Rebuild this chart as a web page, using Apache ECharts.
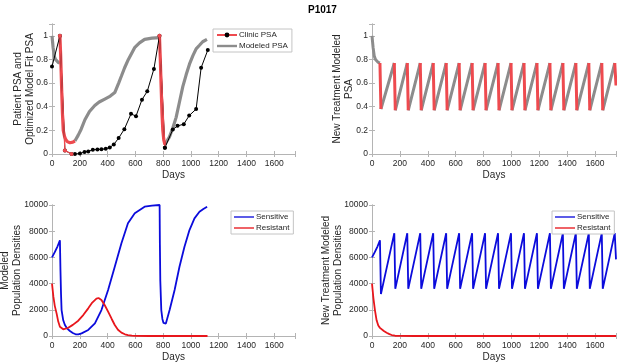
<!DOCTYPE html>
<html>
<head>
<meta charset="utf-8">
<script src="https://cdn.jsdelivr.net/npm/echarts@6/dist/echarts.min.js"></script>
<style>
html,body{margin:0;padding:0;background:#fff;}
#chart{width:617px;height:363px;}
</style>
</head>
<body>
<div id="chart"></div>
<script>
// ---------- Data ----------
const title = 'P1017';
const xTicks = [0, 200, 400, 600, 800, 1000, 1200, 1400, 1600];
const psaTicks = [0, 0.2, 0.4, 0.6, 0.8, 1];
const popTicks = [0, 2000, 4000, 6000, 8000, 10000];

// Top-left: clinic PSA
const clinicDays = [0, 57, 93, 141, 165, 201, 234, 261, 294, 327, 356, 387, 416, 445, 480, 521, 569, 605, 648, 686, 734, 774, 813, 870, 904, 949, 988, 1038, 1074, 1122];
const clinicPSA  = [0.74, 1.0, 0.03, 0.0, 0.0, 0.004, 0.017, 0.022, 0.036, 0.038, 0.04, 0.045, 0.055, 0.08, 0.135, 0.21, 0.34, 0.32, 0.46, 0.53, 0.72, 1.0, 0.053, 0.207, 0.238, 0.252, 0.325, 0.38, 0.73, 0.88];
const clinicOnDays = [57, 93, 141];
const clinicOnPSA  = [1.0, 0.03, 0.0];
const clinicOn2Days = [774, 813];
const clinicOn2PSA  = [1.0, 0.053];

// Top-left: modeled PSA (off = gray, on = red)
const modOff1Days = [0, 8, 16, 25, 33, 45, 57];
const modOff1PSA  = [1.0, 0.9, 0.83, 0.8, 0.785, 0.775, 0.77];
const modOn1Days = [57, 62, 69, 75, 81, 90, 98, 110, 129, 150, 165];
const modOn1PSA  = [1.0, 0.85, 0.57, 0.35, 0.2, 0.15, 0.125, 0.105, 0.095, 0.1, 0.11];
const modOff2Days = [165, 189, 210, 237, 270, 308, 340, 380, 420, 452, 480, 500, 523, 550, 595, 630, 667, 720, 774];
const modOff2PSA  = [0.11, 0.16, 0.21, 0.29, 0.36, 0.41, 0.44, 0.465, 0.49, 0.52, 0.6, 0.66, 0.73, 0.8, 0.9, 0.94, 0.97, 0.98, 0.985];
const modOn2Days = [774, 780, 786, 792, 798, 805, 813];
const modOn2PSA  = [1.0, 0.8, 0.57, 0.35, 0.2, 0.12, 0.08];
const modOff3Days = [813, 846, 870, 894, 918, 942, 966, 990, 1014, 1038, 1062, 1085, 1116];
const modOff3PSA  = [0.08, 0.145, 0.22, 0.31, 0.44, 0.57, 0.67, 0.76, 0.83, 0.89, 0.92, 0.95, 0.97];

// Top-right / bottom-right: new treatment schedule
const newInitDays = [0, 8, 16, 25, 33, 45, 57];
const newInitPSA  = [1.0, 0.9, 0.83, 0.8, 0.785, 0.775, 0.77];
const peakDays   = [57, 160, 253, 346, 439, 532, 625, 718, 811, 904, 997, 1090, 1183, 1276, 1369, 1462, 1555, 1648, 1741];
const troughDays = [64, 167, 260, 353, 446, 539, 632, 725, 818, 911, 1004, 1097, 1190, 1283, 1376, 1469, 1562, 1655, 1750];
const peakPSA    = [0.77, 0.77, 0.77, 0.77, 0.77, 0.77, 0.77, 0.77, 0.77, 0.77, 0.77, 0.77, 0.77, 0.77, 0.77, 0.77, 0.77, 0.77, 0.77];
const troughPSA  = [0.38, 0.37, 0.37, 0.37, 0.37, 0.37, 0.37, 0.37, 0.37, 0.37, 0.37, 0.37, 0.37, 0.37, 0.37, 0.37, 0.37, 0.37, 0.58];

// Bottom-left: modeled populations
const sensDays = [0, 20, 40, 57, 61, 65, 69, 81, 93, 110, 129, 150, 170, 190, 213, 261, 309, 356, 404, 452, 500, 547, 596, 667, 720, 775, 777, 780, 787, 795, 803, 811, 820, 847, 883, 918, 954, 990, 1026, 1062, 1090, 1117];
const sensVals = [6000, 6400, 6850, 7300, 5000, 3200, 1980, 1200, 840, 560, 380, 230, 130, 130, 200, 460, 970, 1980, 3510, 5290, 7080, 8600, 9370, 9870, 9960, 10000, 7000, 4200, 1980, 1300, 1000, 915, 950, 1980, 3510, 5290, 6820, 8090, 8980, 9490, 9700, 9870];
const resDays = [0, 10, 20, 33, 45, 57, 70, 81, 95, 117, 150, 189, 225, 261, 290, 320, 335, 356, 380, 404, 430, 452, 475, 500, 525, 547, 575, 600, 700, 800, 1120];
const resVals = [4000, 3000, 2300, 1730, 1100, 710, 560, 510, 530, 630, 850, 1170, 1600, 2110, 2550, 2850, 2900, 2750, 2350, 1860, 1300, 840, 480, 255, 130, 75, 30, 10, 0, 0, 0];

// Bottom-right: new treatment populations
const newSensInitDays = [0, 20, 40, 57];
const newSensInitVals = [6000, 6400, 6850, 7300];
const sensPeakVals   = [7300, 7850, 7850, 7850, 7850, 7850, 7850, 7850, 7850, 7850, 7850, 7850, 7850, 7850, 7850, 7850, 7850, 7850, 7850];
const sensTroughVals = [3200, 3600, 3600, 3600, 3600, 3600, 3600, 3600, 3600, 3600, 3600, 3600, 3600, 3600, 3600, 3600, 3600, 3600, 5850];
const newResDays = [0, 10, 21, 33, 45, 57, 69, 85, 105, 125, 141, 165, 200, 300, 1750];
const newResVals = [4000, 2900, 1980, 1200, 800, 620, 510, 380, 250, 140, 75, 20, 5, 0, 0];

// ---------- Helpers ----------
const zip = (xs, ys) => xs.map((x, i) => [x, ys[i]]);
function sawOn(pv, tv) {          // drops during treatment
  const out = [];
  for (let i = 0; i < peakDays.length; i++) {
    out.push([peakDays[i], pv[i]], [troughDays[i], tv[i]], [troughDays[i], null]);
  }
  return out;
}
function sawOff(initD, initV, pv, tv) {   // regrowth off treatment
  const out = zip(initD, initV);
  out.push([initD[initD.length - 1], null]);
  for (let i = 0; i < peakDays.length - 1; i++) {
    out.push([troughDays[i], tv[i]], [peakDays[i + 1], pv[i + 1]], [peakDays[i + 1], null]);
  }
  return out;
}
function sawFull(initD, initV, pv, tv) {  // continuous curve in time order
  const d = zip(initD, initV);
  for (let i = 0; i < peakDays.length; i++) {
    if (i > 0) d.push([peakDays[i], pv[i]]);
    d.push([troughDays[i], tv[i]]);
  }
  return d;
}

const FONT = 'Liberation Sans, Arial, Helvetica, sans-serif';
const TXT = '#262626';
const FRAME = '#b4b4b4';
const GRAYC = '#8c8c8c';
const LRED = '#ee4a4f';
const BLUE = '#0b0bdc';
const RED = '#e8161c';

const grids = [
  {left: 52,  top: 24,  width: 243, height: 130},
  {left: 372, top: 24,  width: 244, height: 130},
  {left: 52,  top: 205, width: 243, height: 131},
  {left: 372, top: 205, width: 244, height: 131}
];
const yNames = ['Patient PSA and\nOptimized Model Fit PSA', 'New Treatment Modeled\nPSA', 'Modeled\nPopulation Densities', 'New Treatment Modeled\nPopulation Densities'];
const yGaps = [16, 17, 29, 28];

const xAxes = [], yAxes = [];
grids.forEach((g, i) => {
  const isPSA = i < 2;
  xAxes.push({
    type: 'value', gridIndex: i, min: 0, max: 1750, interval: 200, position: 'bottom',
    name: 'Days', nameLocation: 'middle', nameGap: 16, nameMoveOverlap: false,
    nameTextStyle: {fontFamily: FONT, fontSize: 10, color: TXT},
    axisLine: {show: true, lineStyle: {color: FRAME, width: 1}},
    axisTick: {show: true, inside: true, length: 3, lineStyle: {color: FRAME}},
    axisLabel: {fontFamily: FONT, fontSize: 8.5, color: TXT, margin: 5,
      formatter: v => (xTicks.indexOf(v) >= 0 ? String(v) : '')},
    splitLine: {show: false}
  });
  xAxes.push({
    type: 'value', gridIndex: i, min: 0, max: 1750, interval: 200, position: 'top',
    axisLine: {show: true, lineStyle: {color: FRAME, width: 1}},
    axisTick: {show: true, inside: true, length: 3, lineStyle: {color: FRAME}},
    axisLabel: {show: false}, splitLine: {show: false}
  });
  const ymax = isPSA ? 1.1 : 10000;
  const yint = isPSA ? 0.2 : 2000;
  const ticks = isPSA ? psaTicks : popTicks;
  yAxes.push({
    type: 'value', gridIndex: i, min: 0, max: ymax, interval: yint, position: 'left',
    name: yNames[i], nameLocation: 'middle', nameGap: yGaps[i], nameRotate: 90, nameMoveOverlap: false,
    nameTextStyle: {fontFamily: FONT, fontSize: 10, color: TXT, lineHeight: 12},
    axisLine: {show: true, lineStyle: {color: FRAME, width: 1}},
    axisTick: {show: true, inside: true, length: 3, lineStyle: {color: FRAME}},
    axisLabel: {fontFamily: FONT, fontSize: 8.5, color: TXT, margin: 4,
      formatter: v => (ticks.some(t => Math.abs(t - v) < 1e-9) ? String(Math.round(v * 10) / 10) : '')},
    splitLine: {show: false}
  });
  yAxes.push({
    type: 'value', gridIndex: i, min: 0, max: ymax, interval: yint, position: 'right',
    axisLine: {show: true, lineStyle: {color: FRAME, width: 1}},
    axisTick: {show: true, inside: true, length: 3, lineStyle: {color: FRAME}},
    axisLabel: {show: false}, splitLine: {show: false}
  });
});

function line(name, gi, data, color, width, extra) {
  return Object.assign({
    type: 'line', name: name, xAxisIndex: gi * 2, yAxisIndex: gi * 2, data: data,
    showSymbol: false, symbol: 'none', animation: false, connectNulls: false,
    lineStyle: {color: color, width: width}, itemStyle: {color: color}
  }, extra || {});
}

const series = [
  // Top-left
  line('mo1', 0, zip(modOff1Days, modOff1PSA), GRAYC, 3.2),
  line('mo2', 0, zip(modOff2Days, modOff2PSA), GRAYC, 3.2),
  line('mo3', 0, zip(modOff3Days, modOff3PSA), GRAYC, 3.2),
  line('mr1', 0, zip(modOn1Days, modOn1PSA), LRED, 3.2),
  line('mr2', 0, zip(modOn2Days, modOn2PSA), LRED, 3.2),
  line('clinicBlack', 0, zip(clinicDays, clinicPSA), '#000', 1, {showSymbol: true, symbol: 'circle', symbolSize: 4, z: 4}),
  line('clinicRed1', 0, zip(clinicOnDays, clinicOnPSA), LRED, 1.3, {showSymbol: true, symbol: 'circle', symbolSize: 4, z: 5}),
  line('clinicRed2', 0, zip(clinicOn2Days, clinicOn2PSA).map((p, i) => i === 1 ? {value: p, itemStyle: {color: '#000'}} : p), LRED, 1.3, {showSymbol: true, symbol: 'circle', symbolSize: 4, z: 5}),
  // legend proxies (no data)
  line('Clinic PSA', 0, [], LRED, 1.5, {symbol: 'circle', symbolSize: 4, itemStyle: {color: '#000'}}),
  line('Modeled PSA', 0, [], GRAYC, 3),
  // Top-right
  line('ntOff', 1, sawOff(newInitDays, newInitPSA, peakPSA, troughPSA), GRAYC, 3),
  line('ntOn', 1, sawOn(peakPSA, troughPSA), LRED, 3),
  // Bottom-left
  line('Sensitive', 2, zip(sensDays, sensVals), BLUE, 1.8),
  line('Resistant', 2, zip(resDays, resVals), RED, 1.8),
  // Bottom-right
  line('Sensitive', 3, sawFull(newSensInitDays, newSensInitVals, sensPeakVals, sensTroughVals), BLUE, 1.8),
  line('Resistant', 3, zip(newResDays, newResVals), RED, 1.8)
];

const ICON_THIN = 'path://M0,0H30V2H0Z';
const ICON_THICK = 'path://M0,0H30V3.6H0Z';

const legendBase = {
  orient: 'vertical', itemGap: 3, itemWidth: 20, itemHeight: 6,
  padding: [2, 4, 2, 3], borderColor: '#c4c4c4', borderWidth: 1, backgroundColor: '#fff',
  textStyle: {fontFamily: FONT, fontSize: 8, color: TXT, padding: [0, 0, 0, -3]},
  selectedMode: false
};

const option = {
  backgroundColor: '#fff',
  animation: false,
  title: {text: title, left: 303, top: 0, textStyle: {fontFamily: FONT, fontSize: 10, fontWeight: 'bold', color: '#000'}},
  grid: grids.map(g => Object.assign({show: false, containLabel: false, outerBoundsMode: 'none'}, g)),
  xAxis: xAxes,
  yAxis: yAxes,
  legend: [
    Object.assign({}, legendBase, {data: ['Clinic PSA', {name: 'Modeled PSA', icon: ICON_THICK}], left: 213, top: 29}),
    Object.assign({}, legendBase, {data: [{name: 'Sensitive', icon: ICON_THIN}, {name: 'Resistant', icon: ICON_THIN}], left: 231, top: 211}),
    Object.assign({}, legendBase, {data: [{name: 'Sensitive', icon: ICON_THIN}, {name: 'Resistant', icon: ICON_THIN}], left: 552, top: 211})
  ],
  series: series
};

const chart = echarts.init(document.getElementById('chart'), null, {renderer: 'canvas'});
chart.setOption(option);
</script>
</body>
</html>
